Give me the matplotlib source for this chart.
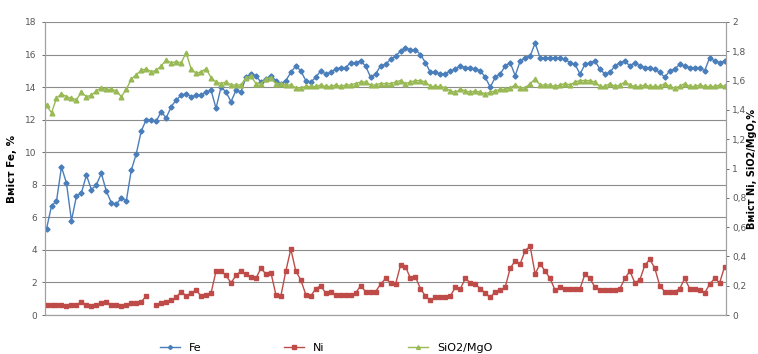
import numpy as np
import matplotlib
matplotlib.use("Agg")
import matplotlib.pyplot as plt
from matplotlib.ticker import FuncFormatter

# sample number (one per analysis)
fe = [5.3, 6.7, 7.0, 9.1, 8.1, 5.8, 7.3, 7.5, 8.6, 7.7,
      8.0, 8.7, 7.6, 6.9, 6.8, 7.2, 7.0, 8.9, 9.9, 11.3,
      12.0, 12.0, 11.9, 12.5, 12.1, 12.8, 13.2, 13.5, 13.6, 13.4,
      13.5, 13.5, 13.7, 13.8, 12.7, 14.0, 13.7, 13.1, 13.8, 13.7,
      14.6, 14.8, 14.7, 14.3, 14.5, 14.7, 14.4, 14.2, 14.4, 14.9,
      15.3, 15.0, 14.4, 14.3, 14.6, 15.0, 14.8, 14.9, 15.1, 15.2,
      15.2, 15.5, 15.5, 15.6, 15.3, 14.6, 14.8, 15.3, 15.4, 15.7,
      15.9, 16.2, 16.4, 16.3, 16.3, 16.0, 15.5, 14.9, 14.9, 14.8,
      14.8, 15.0, 15.1, 15.3, 15.2, 15.2, 15.1, 15.0, 14.6, 14.0,
      14.6, 14.8, 15.3, 15.5, 14.7, 15.6, 15.8, 15.9, 16.7, 15.8,
      15.8, 15.8, 15.8, 15.8, 15.7, 15.5, 15.4, 14.8, 15.4, 15.5,
      15.6, 15.1, 14.8, 14.9, 15.3, 15.5, 15.6, 15.3, 15.5, 15.3,
      15.2, 15.2, 15.1, 14.9, 14.6, 15.0, 15.1, 15.4, 15.3, 15.2,
      15.2, 15.2, 15.0, 15.8, 15.6, 15.5, 15.6]

ni = [0.07, 0.07, 0.07, 0.07, 0.06, 0.07, 0.07, 0.09, 0.07, 0.065,
      0.07, 0.08, 0.09, 0.07, 0.07, 0.06, 0.07, 0.08, 0.08, 0.09,
      0.13, np.nan, 0.07, 0.08, 0.09, 0.10, 0.12, 0.16, 0.13, 0.15,
      0.17, 0.13, 0.14, 0.15, 0.30, 0.30, 0.27, 0.22, 0.27, 0.30,
      0.28, 0.26, 0.25, 0.32, 0.28, 0.29, 0.14, 0.13, 0.30, 0.45,
      0.30, 0.24, 0.14, 0.13, 0.18, 0.20, 0.15, 0.16, 0.14, 0.14,
      0.14, 0.14, 0.15, 0.20, 0.16, 0.16, 0.16, 0.21, 0.25, 0.22,
      0.21, 0.34, 0.33, 0.25, 0.26, 0.18, 0.13, 0.10, 0.12, 0.12,
      0.12, 0.13, 0.19, 0.18, 0.25, 0.22, 0.21, 0.18, 0.15, 0.12,
      0.16, 0.17, 0.19, 0.32, 0.37, 0.35, 0.44, 0.47, 0.28, 0.35,
      0.30, 0.25, 0.17, 0.19, 0.18, 0.18, 0.18, 0.18, 0.28, 0.25,
      0.19, 0.17, 0.17, 0.17, 0.17, 0.18, 0.25, 0.30, 0.22, 0.24,
      0.34, 0.38, 0.32, 0.20, 0.16, 0.16, 0.16, 0.18, 0.25, 0.18,
      0.18, 0.17, 0.15, 0.21, 0.25, 0.22, 0.33]

sio2_mgo = [1.43, 1.38, 1.48, 1.51, 1.49, 1.48, 1.47, 1.52, 1.49, 1.50,
            1.53, 1.55, 1.54, 1.54, 1.53, 1.49, 1.54, 1.61, 1.64, 1.67,
            1.68, 1.66, 1.67, 1.70, 1.74, 1.72, 1.73, 1.72, 1.79, 1.68,
            1.65, 1.66, 1.68, 1.62, 1.59, 1.58, 1.59, 1.57, 1.57, 1.57,
            1.62, 1.63, 1.58, 1.58, 1.61, 1.62, 1.58, 1.58, 1.57, 1.57,
            1.55, 1.55, 1.56, 1.56, 1.56, 1.57, 1.56, 1.56, 1.57, 1.56,
            1.57, 1.57, 1.58, 1.59, 1.59, 1.57, 1.57, 1.58, 1.58, 1.58,
            1.59, 1.60, 1.58, 1.59, 1.60, 1.60, 1.59, 1.56, 1.56, 1.56,
            1.55, 1.53, 1.52, 1.54, 1.53, 1.52, 1.53, 1.52, 1.51, 1.52,
            1.53, 1.54, 1.54, 1.55, 1.57, 1.55, 1.55, 1.58, 1.61, 1.57,
            1.57, 1.57, 1.56, 1.57, 1.58, 1.57, 1.59, 1.60, 1.60, 1.60,
            1.59, 1.56, 1.56, 1.58, 1.56, 1.57, 1.59, 1.57, 1.56, 1.56,
            1.57, 1.56, 1.56, 1.56, 1.58, 1.56, 1.55, 1.56, 1.58, 1.56,
            1.56, 1.57, 1.56, 1.56, 1.56, 1.57, 1.56]

samples = np.arange(len(fe))

blue = "#4A7EBB"
red = "#BE4B48"
green = "#98B954"
grey = "#555555"

fig = plt.figure(figsize=(7.58, 3.54), dpi=100)
ax = fig.add_axes([0.0594, 0.110, 0.8985, 0.828])
ax2 = ax.twinx()

ax.plot(samples, fe, color=blue, marker="D", ms=2.6, lw=1.0, label="Fe")
ax2.plot(samples, ni, color=red, marker="s", ms=2.8, lw=1.0, label="Ni")
ax2.plot(samples, sio2_mgo, color=green, marker="^", ms=3.4, lw=1.0, label="SiO2/MgO")

ax.set_xlim(-0.3, len(fe) - 0.7)
ax.set_ylim(0, 18)
ax.set_yticks(range(0, 19, 2))
ax2.set_ylim(0, 2)
ax2.set_yticks(np.arange(0, 2.01, 0.2))
ax2.yaxis.set_major_formatter(FuncFormatter(lambda v, p: ("%.1f" % v).rstrip("0").rstrip(".").replace(".", ",")))

ax.yaxis.grid(True, color="#8c8c8c", lw=0.8)
ax.set_axisbelow(True)
ax.set_xticks([])

for a in (ax, ax2):
    a.tick_params(axis="y", labelsize=6.5, colors=grey, length=2.5, width=0.6)
    for s in a.spines.values():
        s.set_color("#a0a0a0")
        s.set_linewidth(0.8)
    a.spines["top"].set_visible(False)
ax2.tick_params(axis="y", pad=2)

ax.set_ylabel("Вміст Fe, %", fontsize=7.5, fontweight="bold", labelpad=6)
ax2.set_ylabel("Вміст Ni, SiO2/MgO,%", fontsize=7, fontweight="bold", labelpad=0)

h1, l1 = ax.get_legend_handles_labels()
h2, l2 = ax2.get_legend_handles_labels()
fig.legend(h1 + h2, l1 + l2, loc="lower center", bbox_to_anchor=(0.43, -0.025), ncol=3,
           frameon=False, fontsize=8, columnspacing=7.5, handlelength=1.8, markerscale=0.8)

fig.savefig("out.png", dpi=100)
